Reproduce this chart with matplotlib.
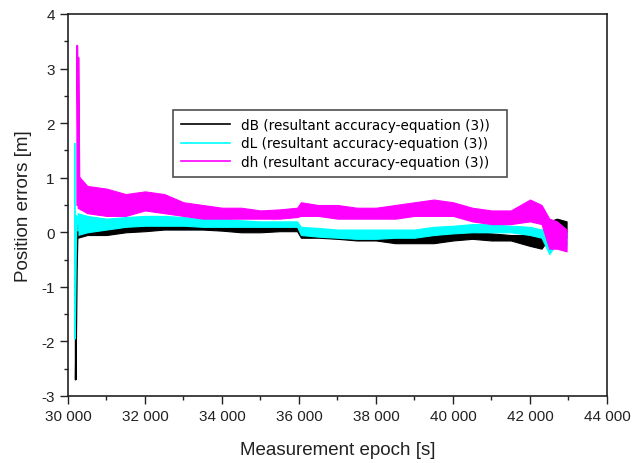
import matplotlib
matplotlib.use("Agg")
import matplotlib.pyplot as plt
from matplotlib.ticker import MultipleLocator, FuncFormatter
import numpy as np

plt.rcParams['font.family'] = ['Liberation Sans', 'DejaVu Sans']

epochs = [30250, 30500, 31000, 31500, 32000, 32500, 33000, 33500, 34000, 34500,
          35000, 35500, 35950, 36050, 36500, 37000, 37500, 38000, 38500, 39000,
          39500, 40000, 40500, 41000, 41500, 42000, 42300, 42500, 42700, 42950]

# lower / upper envelopes [m]
dB_lo = [-0.10, -0.05, -0.05, 0.00, 0.02, 0.05, 0.05, 0.05, 0.03, 0.00,
         0.00, 0.02, 0.02, -0.10, -0.10, -0.12, -0.15, -0.15, -0.20, -0.20,
         -0.20, -0.15, -0.12, -0.15, -0.15, -0.25, -0.30, -0.10, -0.15, -0.10]
dB_hi = [0.15, 0.10, 0.12, 0.12, 0.12, 0.15, 0.20, 0.18, 0.15, 0.12,
         0.10, 0.10, 0.10, 0.02, 0.00, -0.02, -0.05, -0.05, -0.05, -0.05,
         -0.05, 0.00, 0.00, -0.02, -0.05, -0.05, -0.05, 0.20, 0.25, 0.20]

dL_lo = [-0.05, 0.00, 0.05, 0.10, 0.12, 0.12, 0.12, 0.10, 0.10, 0.10,
         0.10, 0.10, 0.10, -0.05, -0.08, -0.10, -0.12, -0.12, -0.10, -0.10,
         -0.05, -0.02, 0.00, 0.00, 0.00, -0.05, -0.10, -0.40, -0.20, -0.25]
dL_hi = [0.35, 0.30, 0.25, 0.28, 0.30, 0.30, 0.28, 0.25, 0.25, 0.22,
         0.20, 0.20, 0.20, 0.10, 0.08, 0.05, 0.05, 0.05, 0.05, 0.05,
         0.10, 0.12, 0.15, 0.15, 0.12, 0.10, 0.05, 0.10, 0.10, 0.00]

dh_lo = [0.45, 0.35, 0.30, 0.30, 0.40, 0.35, 0.30, 0.25, 0.25, 0.25,
         0.25, 0.25, 0.28, 0.30, 0.30, 0.25, 0.25, 0.25, 0.25, 0.30,
         0.30, 0.30, 0.20, 0.15, 0.15, 0.20, 0.15, -0.30, -0.30, -0.35]
dh_hi = [1.05, 0.85, 0.80, 0.70, 0.75, 0.70, 0.55, 0.50, 0.45, 0.45,
         0.40, 0.42, 0.45, 0.55, 0.50, 0.50, 0.45, 0.45, 0.50, 0.55,
         0.60, 0.55, 0.45, 0.40, 0.40, 0.60, 0.50, 0.25, 0.20, 0.05]

# start-up transients
dB_t = [30200, 30200, 30230, 30250]
dB_start = [0.10, -2.70, -0.70, 0.00]
dL_t = [30180, 30180, 30220, 30250]
dL_start = [1.62, -1.95, 0.30, 0.15]
dh_t = [30240, 30240, 30270, 30270, 30300]
dh_start = [0.50, 3.42, 0.60, 3.20, 0.70]

labels = ['dB (resultant accuracy-equation (3))',
          'dL (resultant accuracy-equation (3))',
          'dh (resultant accuracy-equation (3))']
colors = ['black', '#00FFFF', '#FF00FF']

fig = plt.figure(figsize=(6.32, 4.64), dpi=100)
ax = fig.add_axes([68 / 632, 1 - 397 / 464, 539 / 632, 382 / 464])

series = [(dB_t, dB_start, dB_lo, dB_hi), (dL_t, dL_start, dL_lo, dL_hi),
          (dh_t, dh_start, dh_lo, dh_hi)]
for (t, start, lo, hi), c, lab in zip(series, colors, labels):
    ax.fill_between(epochs, lo, hi, color=c, lw=0.8, edgecolor=c)
    ax.plot(t, start, color=c, lw=1.3)
    ax.plot([], [], color=c, lw=1.2, label=lab)

ax.set_xlim(30000, 44000)
ax.set_ylim(-3, 4)
ax.xaxis.set_major_locator(MultipleLocator(2000))
ax.xaxis.set_minor_locator(MultipleLocator(1000))
ax.yaxis.set_major_locator(MultipleLocator(1))
ax.yaxis.set_minor_locator(MultipleLocator(0.5))
ax.xaxis.set_major_formatter(FuncFormatter(lambda v, p: f"{int(v):,}".replace(',', ' ')))
ax.yaxis.set_major_formatter(FuncFormatter(lambda v, p: f"{int(v)}"))
ax.tick_params(which='both', direction='out', top=False, right=False,
               labelsize=11, colors='#222222')
ax.tick_params(which='major', length=6, width=1)
ax.tick_params(which='minor', length=3, width=1)
for s in ax.spines.values():
    s.set_linewidth(1.2)
    s.set_color('#222222')

lab_font = dict(size=13.5, color='#222222')
ax.set_xlabel('Measurement epoch [s]', labelpad=13, **lab_font)
ax.set_ylabel('Position errors [m]', labelpad=7, **lab_font)

leg = ax.legend(loc='center', bbox_to_anchor=(0.195, 0.555, 0.619, 0.212),
                mode='expand', prop=dict(family='DejaVu Sans', size=9.8),
                frameon=True, fancybox=False,
                handlelength=3.6, handletextpad=0.8, labelspacing=0.35,
                borderpad=0.6, borderaxespad=0)
leg.get_frame().set_edgecolor('#222222')
leg.get_frame().set_linewidth(1.2)

fig.savefig('out.png', dpi=100)
